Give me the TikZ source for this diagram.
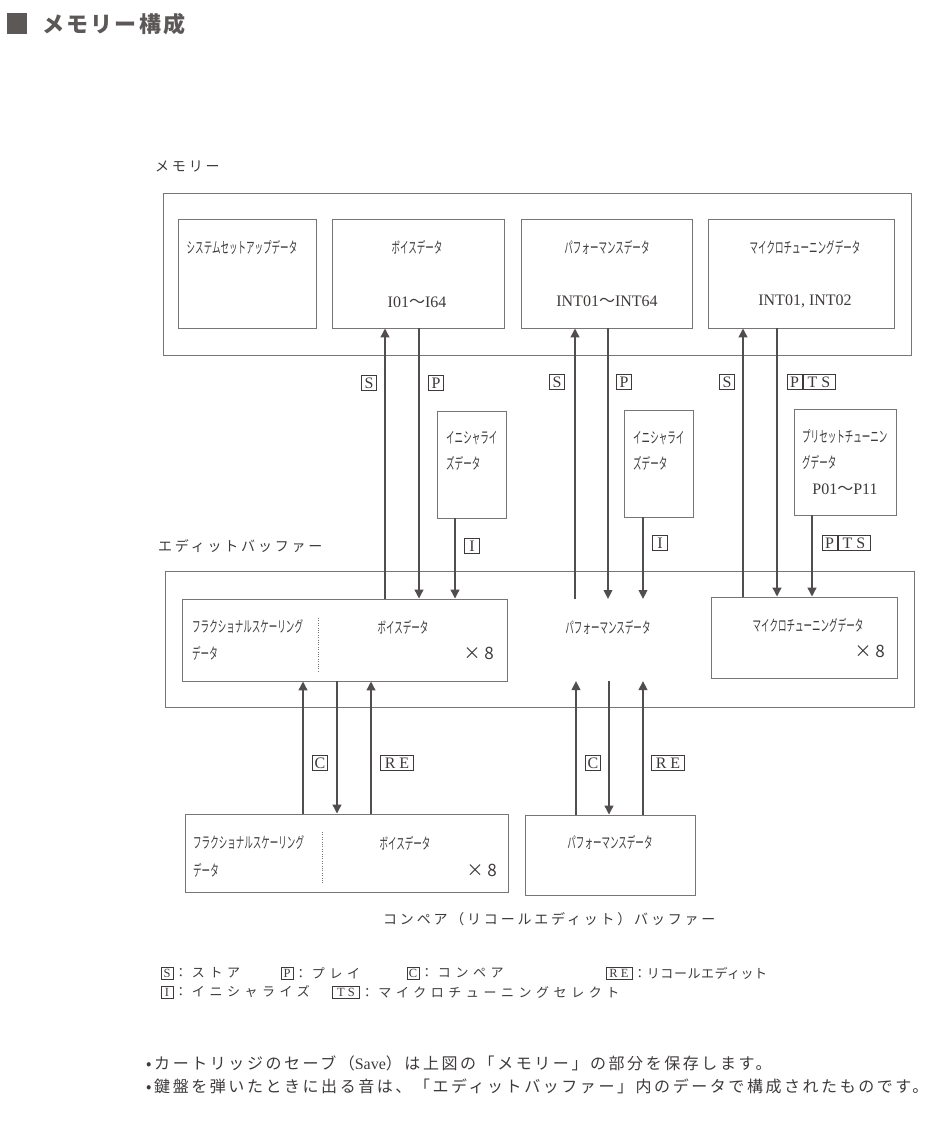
\documentclass[tikz,border=0pt]{standalone}
\usepackage{fontspec}
\setmainfont{Noto Sans CJK JP}
\newfontfamily\latfont{Liberation Serif}
\usetikzlibrary{arrows.meta,positioning}
\definecolor{inkGray}{RGB}{62,58,58}
\definecolor{lineGray}{RGB}{120,117,117}
\definecolor{arrowGray}{RGB}{82,78,78}
\definecolor{titleGray}{RGB}{92,88,88}
\newcommand{\wave}{{\normalfont ～}}
\newcommand{\nar}[1]{\scalebox{0.55}[1]{#1}}
\begin{document}
\begin{tikzpicture}[x=1pt,y=-1pt,
  blk/.style={draw=lineGray,line width=0.7pt,inner sep=0pt},
  hw/.style={inner sep=0pt,text=inkGray,font=\fontsize{15.5}{18}\selectfont},
  rng/.style={inner sep=0pt,text=inkGray,font=\latfont\fontsize{16}{18}\selectfont},
  mul/.style={inner sep=0pt,anchor=east,text=inkGray,font=\fontsize{17}{18}\selectfont},
  lbl/.style={inner sep=0pt,anchor=west,text=inkGray,font=\fontsize{14}{16}\selectfont\addfontfeature{LetterSpace=20}},
  lgd/.style={lbl,font=\fontsize{13}{15}\selectfont\addfontfeature{LetterSpace=35}},
  blt/.style={lbl,font=\fontsize{16}{18}\selectfont\addfontfeature{LetterSpace=16}},
  tag/.style={draw=inkGray,line width=0.5pt,inner sep=1.5pt,minimum height=15pt,text height=11pt,text depth=0pt,text=inkGray,font=\latfont\fontsize{16}{16}\selectfont},
  ltag/.style={tag,minimum height=12pt,inner sep=1pt,text height=8.5pt,font=\latfont\fontsize{12.5}{13}\selectfont},
  arr/.style={draw=arrowGray,line width=2.6pt,-{Triangle[length=9pt,width=8.5pt]}}]
  \useasboundingbox (0,0) rectangle (933,1122);

  \fill[titleGray] (7,13) rectangle (27,34);
  \node[inner sep=0pt,anchor=west,text=titleGray,font=\fontsize{22}{24}\selectfont\bfseries\addfontfeature{LetterSpace=10}] (title) at (42,24) {メモリー構成};

  \node[lbl] (memlbl) at (155,166) {メモリー};
  \node[blk,minimum width=748pt,minimum height=162pt] (mem) at (537,274) {};
  \node[blk,minimum width=138pt,minimum height=109pt] (msys) at (247,273.5) {};
  \node[blk,minimum width=172pt,minimum height=109pt] (mvoice) at (418,273.5) {};
  \node[blk,minimum width=171pt,minimum height=109pt] (mperf) at (606.5,273.5) {};
  \node[blk,minimum width=186pt,minimum height=109pt] (mmicro) at (801,273.5) {};
  \node[hw] (msyst) at (242,247) {\nar{システムセットアップデータ}};
  \node[hw] (mvoicet) at (417,247) {\nar{ボイスデータ}};
  \node[rng] (mvoicer) at (417,302) {I01\wave I64};
  \node[hw] (mperft) at (607,247) {\nar{パフォーマンスデータ}};
  \node[rng] (mperfr) at (607,301) {INT01\wave INT64};
  \node[hw] (mmicrot) at (805,247) {\nar{マイクロチューニングデータ}};
  \node[rng] (mmicror) at (805,301) {INT01, INT02};

  \node[blk,minimum width=69pt,minimum height=107pt] (init1) at (471.5,464.5) {};
  \node[hw,anchor=west] (init1a) at (446,438) {\nar{イニシャライ}};
  \node[hw,anchor=west] (init1b) at (446,463) {\nar{ズデータ}};
  \node[blk,minimum width=69pt,minimum height=107pt] (init2) at (658.5,463.5) {};
  \node[hw,anchor=west] (init2a) at (633,438) {\nar{イニシャライ}};
  \node[hw,anchor=west] (init2b) at (633,463) {\nar{ズデータ}};
  \node[blk,minimum width=102pt,minimum height=106pt] (preset) at (845,462) {};
  \node[hw,anchor=west] (preseta) at (802,437) {\nar{プリセットチューニン}};
  \node[hw,anchor=west] (presetb) at (802,462) {\nar{グデータ}};
  \node[rng] (presetr) at (845,489) {P01\wave P11};

  \node[lbl] (editlbl) at (158,546) {エディットバッファー};
  \node[blk,minimum width=749pt,minimum height=136pt] (edit) at (539.5,639) {};
  \node[blk,minimum width=325pt,minimum height=82pt] (evoice) at (344.5,640) {};
  \draw[lineGray,dotted] (318,618) -- (318,672);
  \node[hw,anchor=west] (efrac1) at (192,627) {\nar{フラクショナルスケーリング}};
  \node[hw,anchor=west] (efrac2) at (192,653) {\nar{データ}};
  \node[hw] (evoicet) at (403,627) {\nar{ボイスデータ}};
  \node[mul] (evoicex) at (494,653) {× 8};
  \node[hw] (eperf) at (608,627) {\nar{パフォーマンスデータ}};
  \coordinate (eperfT) at (608,599);
  \coordinate (eperfB) at (608,681);
  \node[blk,minimum width=186pt,minimum height=81pt] (emicro) at (804,637.5) {};
  \node[hw] (emicrot) at (808,625) {\nar{マイクロチューニングデータ}};
  \node[mul] (emicrox) at (885,651) {× 8};

  \node[blk,minimum width=323pt,minimum height=78pt] (cvoice) at (346.5,853) {};
  \draw[lineGray,dotted] (322,832) -- (322,884);
  \node[hw,anchor=west] (cfrac1) at (193,843) {\nar{フラクショナルスケーリング}};
  \node[hw,anchor=west] (cfrac2) at (193,870) {\nar{データ}};
  \node[hw] (cvoicet) at (405,843) {\nar{ボイスデータ}};
  \node[mul] (cvoicex) at (497,870) {× 8};
  \node[blk,minimum width=170pt,minimum height=80pt] (cperf) at (610,855) {};
  \node[hw] (cperft) at (610,842) {\nar{パフォーマンスデータ}};
  \node[lbl] (cmplbl) at (383,919) {コンペア（リコールエディット）バッファー};

  \draw[arr] ([xshift=40.5pt]evoice.north) -- ([xshift=-33pt]mvoice.south);
  \draw[arr] ([xshift=1pt]mvoice.south) -- ([xshift=74.5pt]evoice.north);
  \draw[arr] ([xshift=-16.5pt]init1.south) -- ([xshift=110.5pt]evoice.north);
  \draw[arr] ([xshift=-33pt]eperfT) -- ([xshift=-31.5pt]mperf.south);
  \draw[arr] ([xshift=1.5pt]mperf.south) -- (eperfT);
  \draw[arr] ([xshift=-15.5pt]init2.south) -- ([xshift=35pt]eperfT);
  \draw[arr] ([xshift=-61pt]emicro.north) -- ([xshift=-58pt]mmicro.south);
  \draw[arr] ([xshift=-24pt]mmicro.south) -- ([xshift=-27pt]emicro.north);
  \draw[arr] ([xshift=-33pt]preset.south) -- ([xshift=8pt]emicro.north);
  \draw[arr] ([xshift=-43.5pt]cvoice.north) -- ([xshift=-41.5pt]evoice.south);
  \draw[arr] ([xshift=-7.5pt]evoice.south) -- ([xshift=-9.5pt]cvoice.north);
  \draw[arr] ([xshift=24.5pt]cvoice.north) -- ([xshift=26.5pt]evoice.south);
  \draw[arr] ([xshift=-34pt]cperf.north) -- ([xshift=-32pt]eperfB);
  \draw[arr] ([xshift=1pt]eperfB) -- ([xshift=-1pt]cperf.north);
  \draw[arr] ([xshift=33pt]cperf.north) -- ([xshift=35pt]eperfB);

  \foreach \n/\x/\y/\w/\t in {tS1/369/383/15/S, tP1/436/383/15/P, tI1/472/546/15/I,
      tS2/557/382/15/S, tP2/624/382/15/P, tI2/660/543/15/I,
      tS3/727/382/15/S, tP3/794.5/382/15/P, tT3/819/382/32/T S,
      tP4/829.5/543/15/P, tT4/854/543/32/T S,
      tC1/320/763/15/C, tR1/397/763/33/R E, tC2/593/763/15/C, tR2/668/763/33/R E}
    \node[tag,minimum width=\w pt] (\n) at (\x,\y) {\t};

  \node[ltag,minimum width=12pt] (lgS) at (167,973) {S};
  \node[lgd,right=1pt of lgS] (lgSt) {：ストア};
  \node[ltag,minimum width=12pt] (lgP) at (287,973) {P};
  \node[lgd,right=1pt of lgP] (lgPt) {：プレイ};
  \node[ltag,minimum width=12pt] (lgC) at (413,973) {C};
  \node[lgd,right=1pt of lgC] (lgCt) {：コンペア};
  \node[ltag,minimum width=26pt] (lgR) at (619,973) {R E};
  \node[lgd,right=1pt of lgR,font=\fontsize{13}{15}\selectfont\addfontfeature{LetterSpace=4}] (lgRt) {：リコールエディット};
  \node[ltag,minimum width=12pt] (lgI) at (167,992) {I};
  \node[lgd,right=1pt of lgI] (lgIt) {：イニシャライズ};
  \node[ltag,minimum width=27pt] (lgT) at (346,992) {T S};
  \node[lgd,right=1pt of lgT] (lgTt) {：マイクロチューニングセレクト};

  \node[blt] (note1) at (146,1063) {•カートリッジのセーブ（{\latfont Save}）は上図の「メモリー」の部分を保存します。};
  \node[blt] (note2) at (146,1086) {•鍵盤を弾いたときに出る音は、「エディットバッファー」内のデータで構成されたものです。};
\end{tikzpicture}
\end{document}
